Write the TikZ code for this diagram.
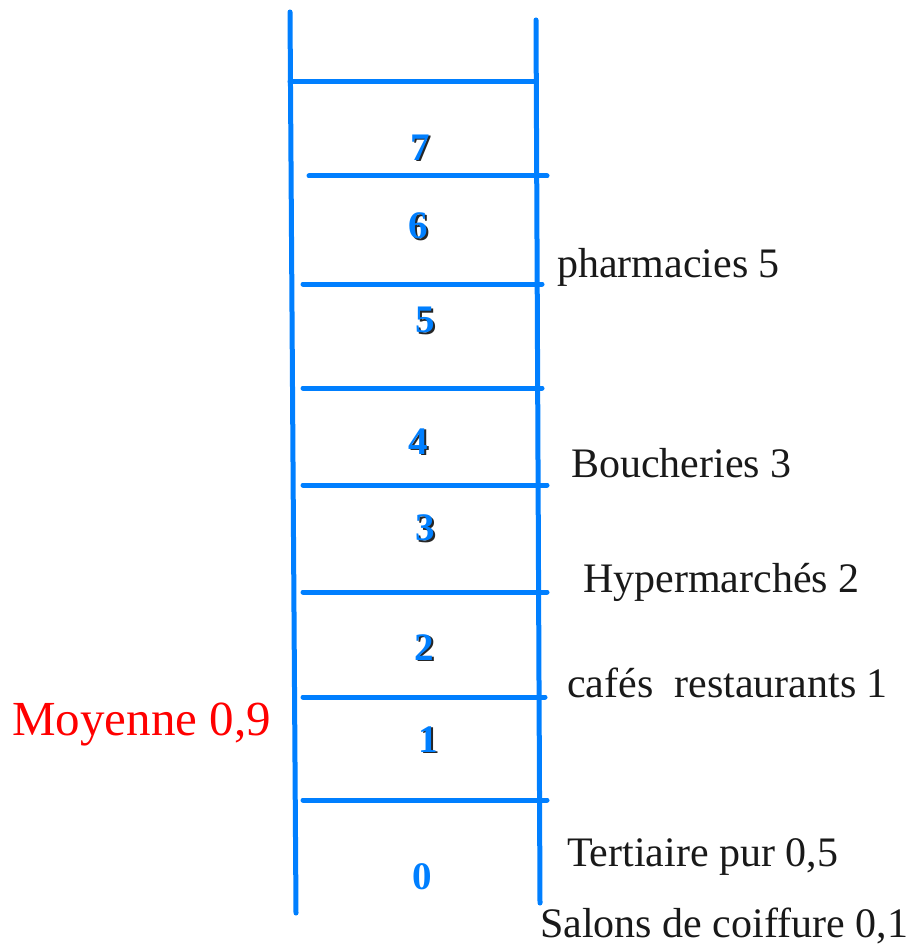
\documentclass[tikz,border=0pt]{standalone}
\usepackage{fontspec}
\setmainfont{Liberation Serif}
\definecolor{ladder}{RGB}{0,127,255}
\definecolor{txt}{RGB}{25,25,25}
\newcommand{\shadowdigit}[1]{\rlap{\kern2pt\raisebox{-1.5pt}{\textcolor{black!85}{#1}}}#1}
\begin{document}
\begin{tikzpicture}[x=1pt,y=-1pt,
  rail/.style={ladder,line width=5pt,line cap=round},
  lbl/.style={anchor=base west,inner sep=0pt,text=txt,font=\fontsize{42}{48}\selectfont},
  digit/.style={inner sep=0pt,text=ladder,font=\bfseries\fontsize{39}{42}\selectfont}]
\useasboundingbox (0,0) rectangle (918,944);
% rails
\coordinate (LT) at (290,12);
\coordinate (LB) at (296,913);
\coordinate (RT) at (536,20);
\coordinate (RB) at (540,903);
\draw[rail] (LT) -- (LB);
\draw[rail] (RT) -- (RB);
% rungs
\foreach \y/\xa/\xb in {82/290/536, 176/309/547, 284/303/542, 388/303/542, 485/303/547, 592/303/547, 697/303/545, 800/303/547}
  \draw[rail] (\xa,\y) -- (\xb,\y);
% digits with shadow
\foreach \d/\x/\y in {7/420/148, 6/418/227, 5/425/321, 4/418/442, 3/425/529, 2/424/648, 1/428/740}{
  \node[digit] (d\d) at (\x,\y) {\shadowdigit{\d}};
}
\node[digit] (d0) at (422,877) {0};
% labels
\node[lbl] (ph) at (557,277) {pharmacies 5};
\node[lbl] (bo) at (571,477) {Boucheries 3};
\node[lbl] (hy) at (583,592) {Hypermarchés 2};
\node[lbl] (ca) at (567,697) {cafés\ \ restaurants 1};
\node[lbl] (te) at (567,866) {Tertiaire pur 0,5};
\node[lbl] (sa) at (540,937) {Salons de coiffure 0,1};
\node[anchor=base west,inner sep=0pt,text=red,font=\fontsize{49}{54}\selectfont] (mo) at (12,735) {Moyenne 0,9};
\end{tikzpicture}
\end{document}
